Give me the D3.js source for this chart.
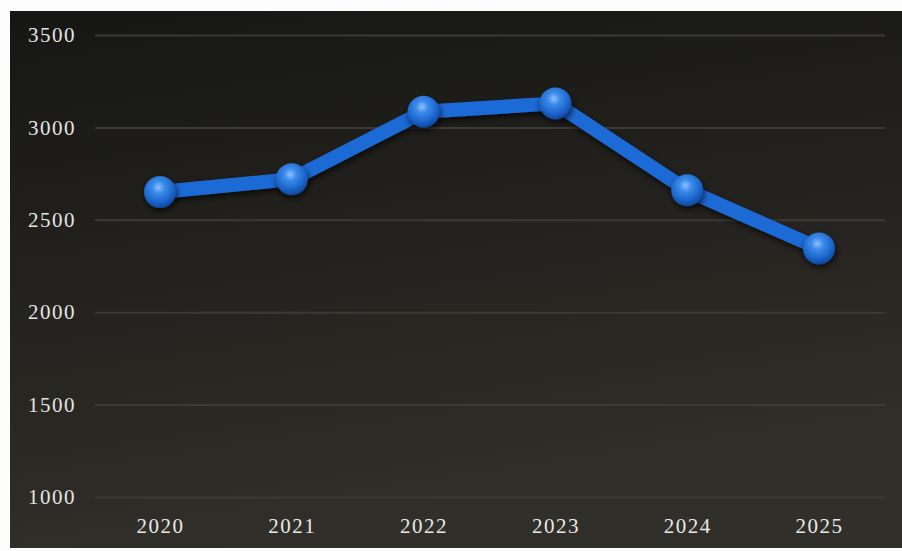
<!DOCTYPE html>
<html>
<head>
<meta charset="utf-8">
<script src="https://cdn.jsdelivr.net/npm/d3@7"></script>
<style>
  html, body { margin: 0; padding: 0; background: #fdfdfd; }
  svg { display: block; }
</style>
</head>
<body>
<svg id="chart" width="902" height="551"></svg>
<script>
// Yearly values
const years = ["2020", "2021", "2022", "2023", "2024", "2025"];
const values = [2650, 2720, 3085, 3130, 2660, 2345];
const yTicks = [1000, 1500, 2000, 2500, 3000, 3500];

const svg = d3.select("#chart");
const W = 902, H = 551;

const defs = svg.append("defs");

// Panel background: dark with a warmer, lighter lower half
const bg = defs.append("linearGradient").attr("id", "bg")
  .attr("x1", "0").attr("y1", "0").attr("x2", "0.25").attr("y2", "1");
bg.append("stop").attr("offset", "0%").attr("stop-color", "#161614");
bg.append("stop").attr("offset", "55%").attr("stop-color", "#24231f");
bg.append("stop").attr("offset", "100%").attr("stop-color", "#302f29");

// Sphere shading for markers
const ball = defs.append("radialGradient").attr("id", "ball")
  .attr("cx", "45%").attr("cy", "35%").attr("r", "65%");
ball.append("stop").attr("offset", "0%").attr("stop-color", "#8fc0ff");
ball.append("stop").attr("offset", "30%").attr("stop-color", "#3a8ae8");
ball.append("stop").attr("offset", "75%").attr("stop-color", "#1a62c8");
ball.append("stop").attr("offset", "100%").attr("stop-color", "#0f4597");

const shadow = defs.append("filter").attr("id", "shadow")
  .attr("x", "-50%").attr("y", "-50%").attr("width", "200%").attr("height", "200%");
shadow.append("feDropShadow").attr("dx", 1).attr("dy", 3).attr("stdDeviation", 3)
  .attr("flood-color", "#000").attr("flood-opacity", 0.7);

svg.append("rect")
  .attr("x", 10).attr("y", 11).attr("width", W - 10).attr("height", 537)
  .attr("fill", "url(#bg)");

const x = d3.scalePoint().domain(years).range([160, 819]);
const y = d3.scaleLinear().domain([1000, 3500]).range([497, 35]);

// Horizontal gridlines with right-aligned value labels
const yAxis = d3.axisLeft(y).tickValues(yTicks).tickSize(-790).tickPadding(20).tickFormat(d3.format("d"));
const gy = svg.append("g").attr("transform", "translate(95,0)").call(yAxis);
gy.select(".domain").remove();
gy.selectAll(".tick line").attr("stroke", "#3b3a35").attr("stroke-width", 2);
gy.selectAll(".tick text")
  .attr("fill", "#e4e4e0")
  .attr("font-family", "'Liberation Serif', 'DejaVu Serif', serif")
  .attr("font-size", 21)
  .attr("letter-spacing", 1.5)
  .attr("x", -19);

// Category labels along the bottom
const xAxis = d3.axisBottom(x).tickSize(0).tickPadding(0);
const gx = svg.append("g").attr("transform", "translate(0,518)").call(xAxis);
gx.select(".domain").remove();
gx.selectAll(".tick text")
  .attr("fill", "#e8e8e4")
  .attr("font-family", "'Liberation Serif', 'DejaVu Serif', serif")
  .attr("font-size", 21)
  .attr("letter-spacing", 1.5);

const data = years.map((yr, i) => ({ year: yr, value: values[i] }));

const line = d3.line().x(d => x(d.year)).y(d => y(d.value));

svg.append("path")
  .datum(data)
  .attr("d", line)
  .attr("fill", "none")
  .attr("stroke", "#1f6ad6")
  .attr("stroke-width", 14)
  .attr("stroke-linejoin", "round")
  .attr("filter", "url(#shadow)");

svg.selectAll("circle.pt")
  .data(data)
  .join("circle")
  .attr("class", "pt")
  .attr("cx", d => x(d.year))
  .attr("cy", d => y(d.value))
  .attr("r", 16)
  .attr("fill", "url(#ball)")
  .attr("filter", "url(#shadow)");
</script>
</body>
</html>
